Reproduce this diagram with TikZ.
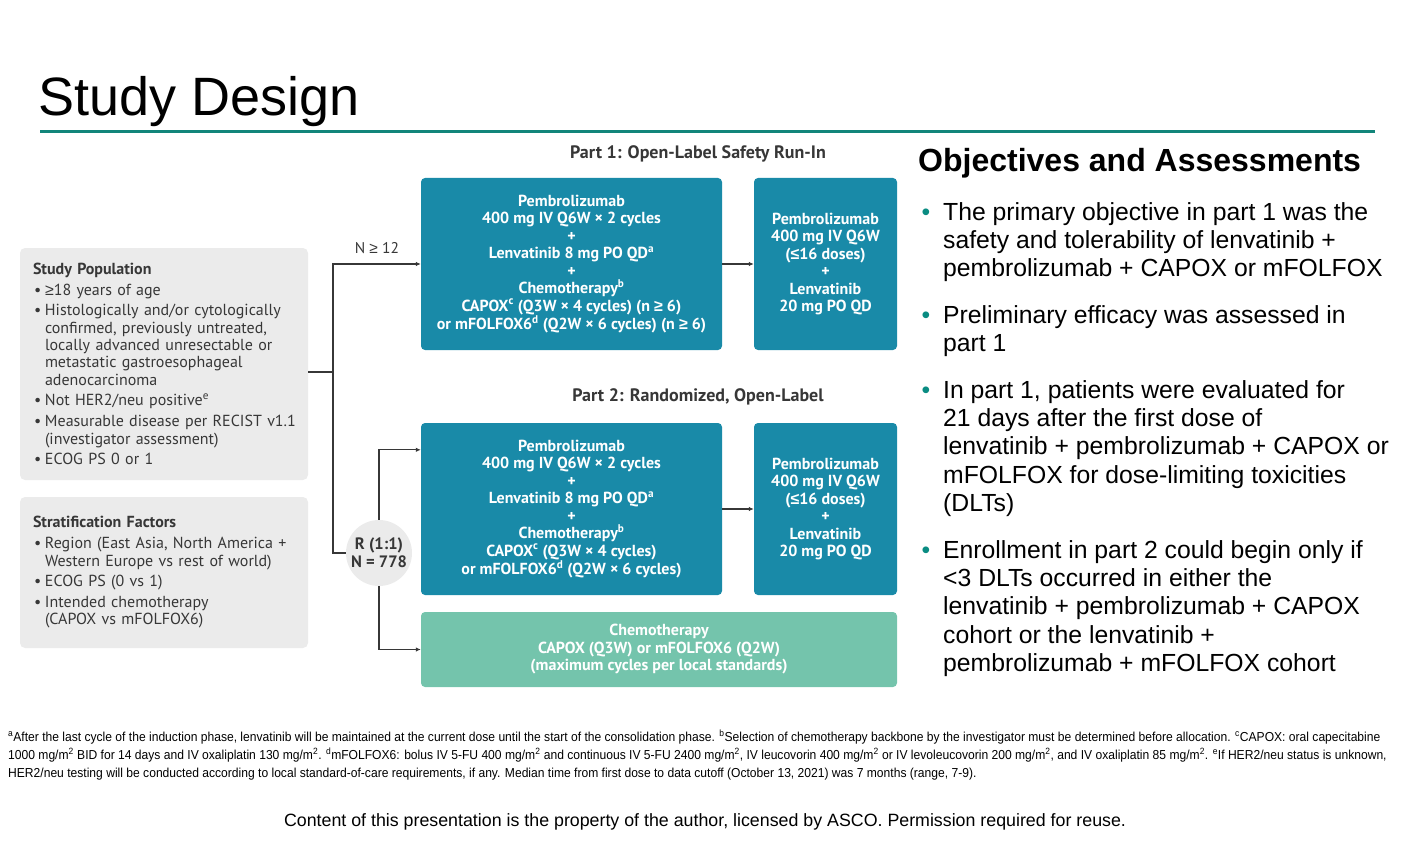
\documentclass[tikz,border=0pt]{standalone}
\usepackage{fontspec}
\usepackage{graphicx}
\setmainfont{Liberation Sans}
\newfontfamily\slidefont{PT Sans}
\newfontfamily\symfont{Liberation Sans}
\usetikzlibrary{arrows.meta,calc,positioning}
\definecolor{rulecol}{RGB}{18,133,122}
\definecolor{armblue}{RGB}{25,138,168}
\definecolor{armgreen}{RGB}{116,196,172}
\definecolor{boxgray}{RGB}{235,235,235}
\definecolor{darktext}{RGB}{55,55,55}
\definecolor{dotteal}{RGB}{10,140,130}
\tikzset{>={Latex[length=5pt,width=4.5pt]}}
\tikzset{
  armbox/.style={fill=armblue, rounded corners=4pt, text=white, align=center, inner sep=0pt,
    font=\slidefont\bfseries\fontsize{16}{17.5}\selectfont},
  chemobox/.style={armbox, fill=armgreen},
  infobox/.style={fill=boxgray, rounded corners=5pt, text=darktext, align=left,
    text width=262pt, inner xsep=13pt, inner ysep=0pt, minimum width=288pt,
    font=\slidefont\fontsize{16}{17.3}\selectfont},
  partlabel/.style={text=darktext, font=\slidefont\bfseries\fontsize{18}{20}\selectfont},
  link/.style={draw=darktext, line width=1.1pt},
  objitem/.style={anchor=north west, align=left, inner sep=0pt, font=\fontsize{24.75}{28.3}\selectfont},
  foot/.style={anchor=base west, inner sep=0pt, font=\fontsize{13}{15}\selectfont}
}
\newcommand{\pitem}[1]{\par\vspace{3.5pt}\hangindent=12pt\hangafter=1\noindent\makebox[12pt][l]{\hspace{1pt}•}#1\par}
\newcommand{\objdot}{\makebox[0pt][r]{\textcolor{dotteal}{•}\hspace{13pt}}}
\newcommand{\fnscale}[1]{\scalebox{0.93}[1]{#1}}
\newcommand{\gtsym}{{\symfont ≥}}
\newcommand{\ltsym}{{\symfont ≤}}
\begin{document}
\begin{tikzpicture}[x=1pt,y=-1pt]
\useasboundingbox (0,0) rectangle (1412,842);

% Title
\node[anchor=base west, inner sep=0pt, font=\fontsize{54}{64}\selectfont] (title) at (38,116) {Study Design};
\draw[rulecol, line width=3pt] (40,132) -- (1375,132);

% Left boxes
\node[infobox, minimum height=232pt] (pop) at (164,364) {%
  {\bfseries\fontsize{16}{17.3}\selectfont Study Population}
  \pitem{\gtsym18 years of age}
  \pitem{Histologically and/or cytologically\newline confirmed, previously untreated,\newline locally advanced unresectable or\newline metastatic gastroesophageal\newline adenocarcinoma}
  \pitem{Not HER2/neu positive\textsuperscript{e}}
  \pitem{\mbox{Measurable disease per RECIST v1.1}\newline (investigator assessment)}
  \pitem{ECOG PS 0 or 1}};
\node[infobox, minimum height=151pt] (strat) at (164,572.5) {%
  {\bfseries\fontsize{16}{17.3}\selectfont Stratification Factors}
  \pitem{Region (East Asia, North America +\newline Western Europe vs rest of world)}
  \pitem{ECOG PS (0 vs 1)}
  \pitem{Intended chemotherapy\newline (CAPOX vs mFOLFOX6)}};

% Part 1
\node[partlabel] (p1) at (698,154) {Part 1: Open-Label Safety Run-In};
\node[armbox, minimum width=301pt, minimum height=172pt] (ind1) at (571.5,264) {%
  Pembrolizumab\\400 mg IV Q6W × 2 cycles\\+\\Lenvatinib 8 mg PO QD\textsuperscript{a}\\+\\
  Chemotherapy\textsuperscript{b}\\CAPOX\textsuperscript{c} (Q3W × 4 cycles) (n \gtsym\ 6)\\
  or mFOLFOX6\textsuperscript{d} (Q2W × 6 cycles) (n \gtsym\ 6)};
\node[armbox, minimum width=143pt, minimum height=172pt] (main1) at (825.5,264) {%
  Pembrolizumab\\400 mg IV Q6W\\(\ltsym16 doses)\\+\\Lenvatinib\\20 mg PO QD};

% Part 2
\node[partlabel] (p2) at (698,397) {Part 2: Randomized, Open-Label};
\node[armbox, minimum width=301pt, minimum height=172pt] (ind2) at (571.5,509) {%
  Pembrolizumab\\400 mg IV Q6W × 2 cycles\\+\\Lenvatinib 8 mg PO QD\textsuperscript{a}\\+\\
  Chemotherapy\textsuperscript{b}\\CAPOX\textsuperscript{c} (Q3W × 4 cycles)\\
  or mFOLFOX6\textsuperscript{d} (Q2W × 6 cycles)};
\node[armbox, minimum width=143pt, minimum height=172pt] (main2) at (825.5,509) {%
  Pembrolizumab\\400 mg IV Q6W\\(\ltsym16 doses)\\+\\Lenvatinib\\20 mg PO QD};
\node[chemobox, minimum width=476pt, minimum height=75pt] (chemo) at (659,649.5) {%
  Chemotherapy\\CAPOX (Q3W) or mFOLFOX6 (Q2W)\\(maximum cycles per local standards)};

% Randomization
\node[circle, fill=boxgray, minimum size=66pt, inner sep=0pt, align=center, text=darktext,
  font=\slidefont\bfseries\fontsize{16.5}{18}\selectfont] (rand) at (379,553) {R (1:1)\\N = 778};

% Connectors
\coordinate (split) at (333,372);
\draw[link] ([yshift=-8pt]pop.east) -- (split);
\draw[link,->] (split) |- (ind1.west) node[pos=0.75, above=6pt, text=darktext, font=\slidefont\fontsize{15.5}{17}\selectfont] (nlab) {N \gtsym\ 12};
\draw[link] (split) |- (rand.west);
\draw[link,->] (rand.north) |- ($(ind2.north west)+(0,27)$);
\draw[link,->] (rand.south) |- (chemo.west);
\draw[link,->] (ind1) -- (main1);
\draw[link,->] (ind2) -- (main2);

% Objectives
\node[anchor=base west, inner sep=0pt, font=\bfseries\fontsize{32}{36}\selectfont] (objhead) at (918,172) {Objectives and Assessments};
\node[objitem] (obj1) at (943,202) {\objdot The primary objective in part 1 was the\\safety and tolerability of lenvatinib +\\pembrolizumab + CAPOX or mFOLFOX};
\node[objitem] (obj2) at (943,305) {\objdot Preliminary efficacy was assessed in\\part 1};
\node[objitem] (obj3) at (943,380) {\objdot In part 1, patients were evaluated for\\21 days after the first dose of\\lenvatinib + pembrolizumab + CAPOX or\\mFOLFOX for dose-limiting toxicities\\(DLTs)};
\node[objitem] (obj4) at (943,540) {\objdot Enrollment in part 2 could begin only if\\<3 DLTs occurred in either the\\lenvatinib + pembrolizumab + CAPOX\\cohort or the lenvatinib +\\pembrolizumab + mFOLFOX cohort};

% Footnotes
\node[foot] (fn1) at (8,741) {\fnscale{\textsuperscript{a}After the last cycle of the induction phase, lenvatinib will be maintained at the current dose until the start of the consolidation phase. \textsuperscript{b}Selection of chemotherapy backbone by the investigator must be determined before allocation. \textsuperscript{c}CAPOX: oral capecitabine}};
\node[foot] (fn2) at (8,759) {\fnscale{1000 mg/m\textsuperscript{2} BID for 14 days and IV oxaliplatin 130 mg/m\textsuperscript{2}. \textsuperscript{d}mFOLFOX6: bolus IV 5-FU 400 mg/m\textsuperscript{2} and continuous IV 5-FU 2400 mg/m\textsuperscript{2}, IV leucovorin 400 mg/m\textsuperscript{2} or IV levoleucovorin 200 mg/m\textsuperscript{2}, and IV oxaliplatin 85 mg/m\textsuperscript{2}. \textsuperscript{e}If HER2/neu status is unknown,}};
\node[foot] (fn3) at (8,777) {\fnscale{HER2/neu testing will be conducted according to local standard-of-care requirements, if any. Median time from first dose to data cutoff (October 13, 2021) was 7 months (range, 7-9).}};

% Permission line
\node[anchor=base, inner sep=0pt, font=\fontsize{17.8}{20}\selectfont] (perm) at (705,826) {Content of this presentation is the property of the author, licensed by ASCO. Permission required for reuse.};
\end{tikzpicture}
\end{document}
